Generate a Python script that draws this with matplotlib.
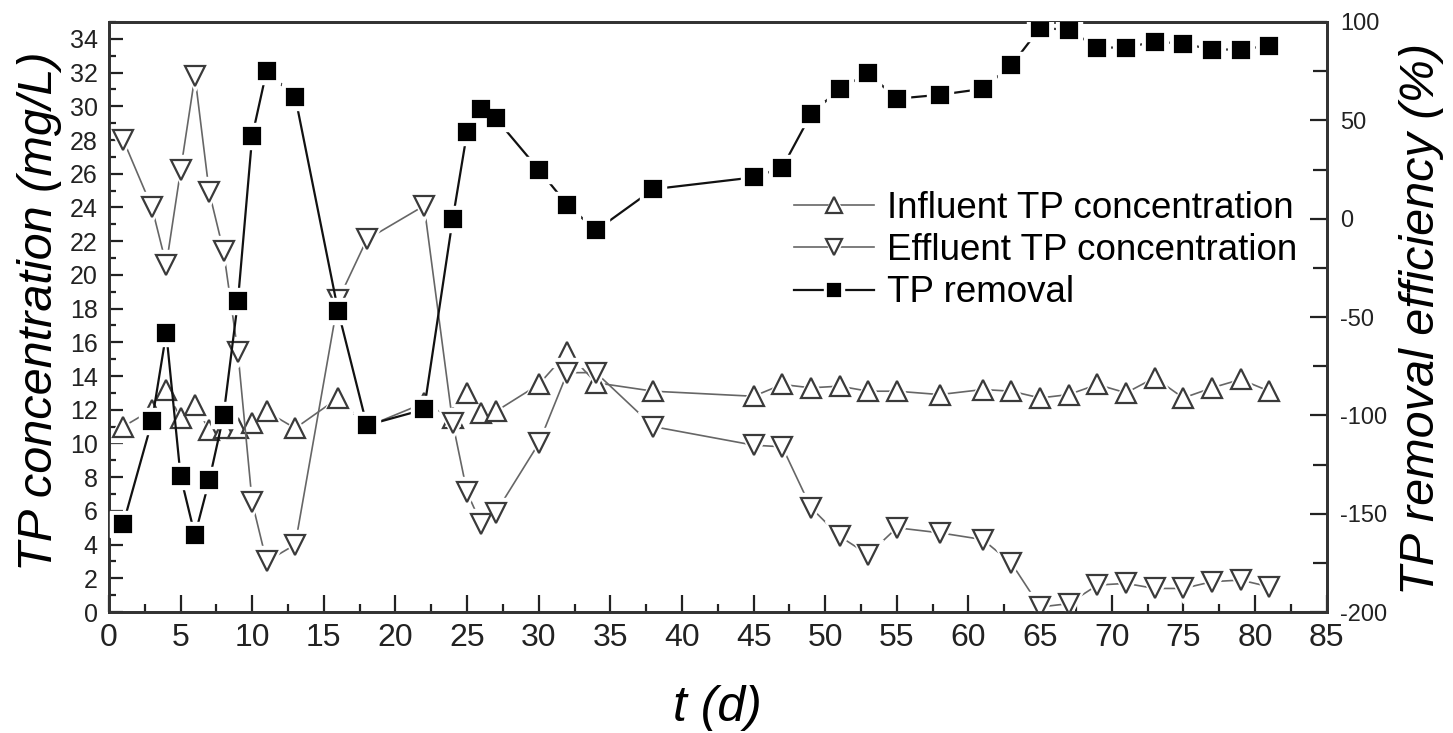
import numpy as np
import matplotlib
matplotlib.use("Agg")
import matplotlib.pyplot as plt
from matplotlib.ticker import MultipleLocator
from matplotlib.legend_handler import HandlerTuple

plt.rcParams['font.family'] = ['Liberation Sans', 'DejaVu Sans']
plt.rcParams['axes.unicode_minus'] = False

# days
t = [1, 3, 4, 5, 6, 7, 8, 9, 10, 11, 13, 16, 18, 22, 24, 25, 26, 27, 30, 32,
     34, 38, 45, 47, 49, 51, 53, 55, 58, 61, 63, 65, 67, 69, 71, 73, 75, 77, 79, 81]

# influent TP (mg/L)
influent = [11.0, 12.0, 13.2, 11.5, 12.3, 10.8, 10.9, 10.9, 11.2, 11.9, 10.9, 12.7, 11.0, 12.4, 11.5, 13.0,
            11.8, 11.9, 13.5, 15.4, 13.6, 13.1, 12.8, 13.5, 13.3, 13.4, 13.1, 13.1, 12.9, 13.2,
            13.1, 12.7, 12.9, 13.5, 13.0, 13.9, 12.7, 13.3, 13.8, 13.1]

# effluent TP (mg/L)
effluent = [28.0, 24.0, 20.6, 26.2, 31.8, 24.9, 21.4, 15.4, 6.5, 3.0, 4.0, 18.5, 22.1, 24.1, 11.2, 7.1,
            5.2, 5.9, 10.0, 14.2, 14.2, 11.0, 9.9, 9.8, 6.2, 4.5, 3.4, 5.0, 4.7, 4.3,
            2.9, 0.3, 0.5, 1.6, 1.7, 1.4, 1.4, 1.8, 1.9, 1.5]

# removal efficiency (%)
removal = [-155, -103, -58, -131, -161, -133, -100, -42, 42, 75, 62, -47, -105, -97, 0, 44,
           56, 51, 25, 7, -6, 15, 21, 26, 53, 66, 74, 61, 63, 66,
           78, 97, 96, 87, 87, 90, 89, 86, 86, 88]

fig = plt.figure(figsize=(14.53, 7.33), dpi=100)
ax = fig.add_axes([0.075, 0.165, 0.838, 0.805])
ax2 = ax.twinx()

grey = '#666666'
edge = '#3a3a3a'


def serie(a, x, y, mk, ms, lc, ec, fc, lw, z):
    ln, = a.plot(x, y, '-', color=lc, lw=lw, zorder=z)
    # white halo so the line stops short of each marker
    halo, = a.plot(x, y, ls='none', marker=mk, ms=ms + 7, mfc='white', mec='white', zorder=z + 0.1)
    m, = a.plot(x, y, ls='none', marker=mk, ms=ms, mfc=fc, mec=ec, mew=1.6, zorder=z + 0.2)
    return (ln, halo, m)


h1 = serie(ax, t, influent, '^', 15, grey, edge, 'white', 1.2, 2)
h2 = serie(ax, t, effluent, 'v', 15, grey, edge, 'white', 1.2, 3)
h3 = serie(ax2, t, removal, 's', 12, '#111111', 'black', 'black', 1.6, 4)

ax.set_xlim(0, 85)
ax.set_ylim(0, 35)
ax2.set_ylim(-200, 100)

ax.xaxis.set_major_locator(MultipleLocator(5))
ax.xaxis.set_minor_locator(MultipleLocator(2.5))
ax.yaxis.set_major_locator(MultipleLocator(2))
ax.yaxis.set_minor_locator(MultipleLocator(1))
ax2.yaxis.set_major_locator(MultipleLocator(50))
ax2.yaxis.set_minor_locator(MultipleLocator(25))
ax.set_yticks(np.arange(0, 35, 2))

ax.tick_params(axis='x', which='major', direction='in', length=12, width=1.6, labelsize=23, pad=8, top=False,
               color='#222222')
ax.tick_params(axis='x', which='minor', direction='in', length=6, width=1.6, top=False, color='#222222')
ax.tick_params(axis='y', which='major', direction='in', length=10, width=1.6, labelsize=18, pad=8,
               color='#222222')
ax.tick_params(axis='y', which='minor', direction='in', length=5, width=1.6, color='#222222')
ax2.tick_params(axis='y', which='major', direction='in', length=12, width=1.6, labelsize=17, pad=10,
                color='#222222')
ax2.tick_params(axis='y', which='minor', direction='in', length=10, width=1.6, color='#222222')

for a in (ax, ax2):
    for s in a.spines.values():
        s.set_linewidth(2)
        s.set_color('#333333')
for lab in ax.get_xticklabels() + ax.get_yticklabels() + ax2.get_yticklabels():
    lab.set_color('#222222')

fig.text(0.494, 1 - 708 / 733, 't (d)', fontsize=36, style='italic', ha='center', va='center')
fig.text(40 / 1453, 0.575, 'TP concentration (mg/L)', fontsize=35, style='italic', rotation=90,
         ha='center', va='center')
fig.text(1422 / 1453, 0.565, 'TP removal efficiency (%)', fontsize=35, style='italic', rotation=90,
         ha='center', va='center')

ax2.legend([h1, h2, h3], ['Influent TP concentration', 'Effluent TP concentration', 'TP removal'],
           handler_map={tuple: HandlerTuple(ndivide=1, pad=0)},
           loc='upper left', bbox_to_anchor=(0.563, 0.714), frameon=False, fontsize=26.5,
           markerscale=0.75, handlelength=2.17, handletextpad=0.33, labelspacing=0.2,
           borderaxespad=0, borderpad=0)

fig.savefig('out.png', dpi=100)
